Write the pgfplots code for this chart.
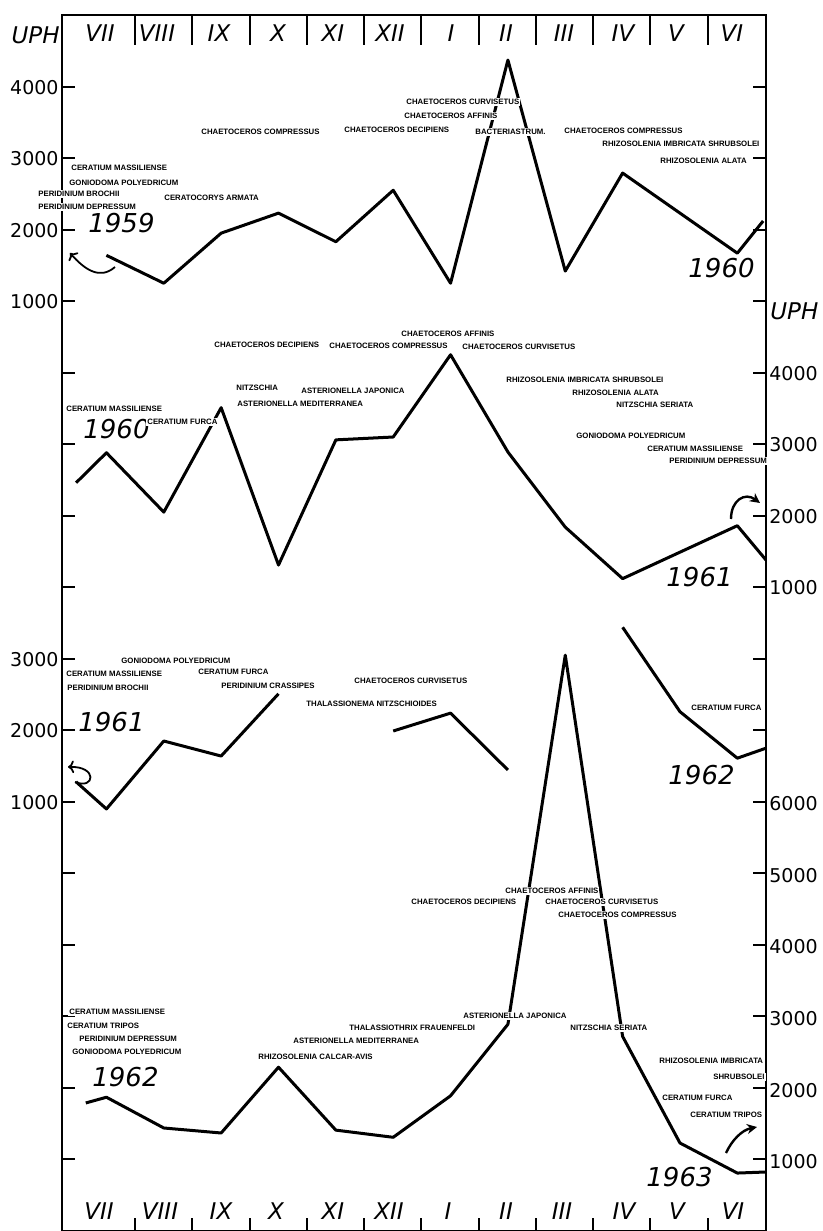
\documentclass[border=0pt]{standalone}
\usepackage{fontspec}
\setmainfont{DejaVu Sans}
\newfontfamily\spf{Liberation Sans}
\usepackage{pgfplots}
\usepackage{pgfplotstable}
\pgfplotsset{compat=1.18}
\usetikzlibrary{arrows.meta}
\tikzset{
 sp/.style={font=\spf\bfseries\fontsize{3.9}{4.5}\selectfont, anchor=west, fill=white, inner sep=0.5pt},
 yr/.style={font=\fontsize{13}{13}\selectfont\itshape, inner sep=0pt},
 mo/.style={font=\fontsize{11.5}{12}\selectfont\itshape, inner sep=0pt},
}
\pgfplotsset{
 panel/.style={at={(0pt,0pt)}, anchor=south west, scale only axis, width=352pt, height=608pt,
  xmin=-0.775, xmax=11.5, xtick=\empty, axis line style={draw=none}, tick style={draw=none},
  yticklabel style={font=\fontsize{9.5}{10}\selectfont, inner sep=1.5pt},
  unbounded coords=jump},
 ser/.style={black, mark=none, line width=1.5pt, line join=round},
}
% month index: 0=VII ... 11=VI ; values in UPH
\pgfplotstableread{
m v
0 1650
1 1260
2 1960
3 2240
4 1840
5 2560
6 1260
7 4380
8 1430
9 2800
11 1680
11.45 2130
}\yrA
\pgfplotstableread{
m v
-0.53 2470
0 2890
1 2060
2 3520
3 1320
4 3070
5 3110
6 4260
7 2900
8 1850
9 1130
10 1500
11 1870
11.5 1390
}\yrB
\pgfplotstableread{
m v
-0.53 1290
0 910
1 1860
2 1650
3 2520
4 nan
5 2000
6 2250
7 1455
8 nan
9 3450
10 2270
11 1620
11.5 1760
}\yrC
\pgfplotstableread{
m v
-0.36 1820
0 1900
1 1470
2 1400
3 2320
4 1440
5 1340
6 1920
7 2920
8 8080
9 2750
10 1260
11 840
11.5 855
}\yrD
\begin{document}
\begin{tikzpicture}
\useasboundingbox (-31pt,0pt) rectangle (380.5pt,615.5pt);
% 1959-60
\begin{axis}[panel, ymin=-11990, ymax=5010, ytick={1000,2000,3000,4000}, yticklabels={1000,2000,3000,4000}, yticklabel pos=left]
\addplot[ser] table[x=m,y=v]{\yrA};
\end{axis}
% 1960-61
\begin{axis}[panel, ymin=-7990, ymax=9010, ytick={1000,2000,3000,4000}, yticklabels={1000,2000,3000,4000}, yticklabel pos=right]
\addplot[ser] table[x=m,y=v]{\yrB};
\end{axis}
% 1961-62
\begin{axis}[panel, ymin=-4990, ymax=12010, ytick={1000,2000,3000}, yticklabels={1000,2000,3000}, yticklabel pos=left]
\addplot[ser] table[x=m,y=v]{\yrC};
\end{axis}
% 1962-63
\begin{axis}[panel, ymin=30, ymax=17030, ytick={1000,2000,3000,4000,5000,6000}, yticklabels={1000,2000,3000,4000,5000,6000}, yticklabel pos=right]
\addplot[ser] table[x=m,y=v]{\yrD};
\end{axis}
% frame and annotations (pixel coordinates)
\begin{axis}[at={(0pt,0pt)}, anchor=south west, scale only axis, width=352pt, height=608pt,
 xmin=62, xmax=766, ymin=-1231, ymax=-15, clip=false,
 axis line style={line width=1pt},
 xtick={135,192.27,...,710}, xticklabels={}, xtick pos=left,
 ytick={-1159.5,-1088,...,-80}, yticklabels={}, ytick pos=both,
 tick align=inside, major tick length=6.5pt, tick style={line width=1pt, black}]
\draw[line width=1pt] (axis cs:135,-15) -- (axis cs:135,-45);
\draw[line width=1pt] (axis cs:192.3,-15) -- (axis cs:192.3,-45);
\draw[line width=1pt] (axis cs:249.5,-15) -- (axis cs:249.5,-45);
\draw[line width=1pt] (axis cs:306.8,-15) -- (axis cs:306.8,-45);
\draw[line width=1pt] (axis cs:364.1,-15) -- (axis cs:364.1,-45);
\draw[line width=1pt] (axis cs:421.4,-15) -- (axis cs:421.4,-45);
\draw[line width=1pt] (axis cs:478.6,-15) -- (axis cs:478.6,-45);
\draw[line width=1pt] (axis cs:535.9,-15) -- (axis cs:535.9,-45);
\draw[line width=1pt] (axis cs:593.2,-15) -- (axis cs:593.2,-45);
\draw[line width=1pt] (axis cs:650.4,-15) -- (axis cs:650.4,-45);
\draw[line width=1pt] (axis cs:707.7,-15) -- (axis cs:707.7,-45);
% top months
\node[mo] at (axis cs:100,-33) {VII};
\node[mo] at (axis cs:157,-33) {VIII};
\node[mo] at (axis cs:219,-33) {IX};
\node[mo] at (axis cs:278,-33) {X};
\node[mo] at (axis cs:333,-33) {XI};
\node[mo] at (axis cs:390,-33) {XII};
\node[mo] at (axis cs:451,-33) {I};
\node[mo] at (axis cs:506,-33) {II};
\node[mo] at (axis cs:564,-33) {III};
\node[mo] at (axis cs:623,-33) {IV};
\node[mo] at (axis cs:676,-33) {V};
\node[mo] at (axis cs:732,-33) {VI};
% bottom months
\node[mo] at (axis cs:99,-1211) {VII};
\node[mo] at (axis cs:160,-1211) {VIII};
\node[mo] at (axis cs:221,-1211) {IX};
\node[mo] at (axis cs:276,-1211) {X};
\node[mo] at (axis cs:333,-1211) {XI};
\node[mo] at (axis cs:389,-1211) {XII};
\node[mo] at (axis cs:448,-1211) {I};
\node[mo] at (axis cs:506,-1211) {II};
\node[mo] at (axis cs:562,-1211) {III};
\node[mo] at (axis cs:624,-1211) {IV};
\node[mo] at (axis cs:677,-1211) {V};
\node[mo] at (axis cs:733,-1211) {VI};
\node[mo, anchor=east] at (axis cs:60,-35) {UPH};
\node[mo, anchor=west] at (axis cs:770,-311) {UPH};
% years
\node[yr, anchor=west] at (axis cs:88,-223) {1959};
\node[yr, anchor=east] at (axis cs:755,-268) {1960};
\node[yr, anchor=west] at (axis cs:83,-429) {1960};
\node[yr, anchor=east] at (axis cs:733,-577) {1961};
\node[yr, anchor=west] at (axis cs:78,-722) {1961};
\node[yr, anchor=east] at (axis cs:735,-775) {1962};
\node[yr, anchor=west] at (axis cs:92,-1077) {1962};
\node[yr, anchor=east] at (axis cs:713,-1177) {1963};
% arrows
\draw[line width=0.9pt, -{To[length=3pt]}] (axis cs:115,-267) .. controls (axis cs:100,-280) and (axis cs:85,-270) .. (axis cs:70,-253);
\draw[line width=1.2pt, -{Stealth[length=5pt,width=5pt]}] (axis cs:731,-519) .. controls (axis cs:731,-500) and (axis cs:745,-492) .. (axis cs:760,-503);
\draw[line width=0.9pt, -{To[length=3pt]}] (axis cs:75,-782) .. controls (axis cs:95,-790) and (axis cs:98,-766) .. (axis cs:68,-767);
\draw[line width=1.2pt, -{Stealth[length=5pt,width=5pt]}] (axis cs:726,-1153) .. controls (axis cs:732,-1140) and (axis cs:742,-1130) .. (axis cs:757,-1127);
% panel 1 species
\node[sp] at (axis cs:70,-168) {CERATIUM MASSILIENSE};
\node[sp] at (axis cs:68,-183) {GONIODOMA POLYEDRICUM};
\node[sp] at (axis cs:37,-194) {PERIDINIUM BROCHII};
\node[sp] at (axis cs:37,-207) {PERIDINIUM DEPRESSUM};
\node[sp] at (axis cs:163,-198) {CERATOCORYS ARMATA};
\node[sp] at (axis cs:200,-132) {CHAETOCEROS COMPRESSUS};
\node[sp] at (axis cs:343,-130) {CHAETOCEROS DECIPIENS};
\node[sp] at (axis cs:405,-102) {CHAETOCEROS CURVISETUS};
\node[sp] at (axis cs:403,-116) {CHAETOCEROS AFFINIS};
\node[sp] at (axis cs:474,-132) {BACTERIASTRUM.};
\node[sp] at (axis cs:563,-131) {CHAETOCEROS COMPRESSUS};
\node[sp] at (axis cs:601,-144) {RHIZOSOLENIA IMBRICATA SHRUBSOLEI};
\node[sp] at (axis cs:659,-161) {RHIZOSOLENIA ALATA};
% panel 2 species
\node[sp] at (axis cs:65,-409) {CERATIUM MASSILIENSE};
\node[sp] at (axis cs:146,-422) {CERATIUM FURCA};
\node[sp] at (axis cs:213,-345) {CHAETOCEROS DECIPIENS};
\node[sp] at (axis cs:328,-346) {CHAETOCEROS COMPRESSUS};
\node[sp] at (axis cs:400,-334) {CHAETOCEROS AFFINIS};
\node[sp] at (axis cs:461,-347) {CHAETOCEROS CURVISETUS};
\node[sp] at (axis cs:235,-388) {NITZSCHIA};
\node[sp] at (axis cs:236,-404) {ASTERIONELLA MEDITERRANEA};
\node[sp] at (axis cs:300,-391) {ASTERIONELLA JAPONICA};
\node[sp] at (axis cs:505,-380) {RHIZOSOLENIA IMBRICATA SHRUBSOLEI};
\node[sp] at (axis cs:571,-393) {RHIZOSOLENIA ALATA};
\node[sp] at (axis cs:615,-405) {NITZSCHIA SERIATA};
\node[sp] at (axis cs:575,-436) {GONIODOMA POLYEDRICUM};
\node[sp] at (axis cs:646,-449) {CERATIUM MASSILIENSE};
\node[sp] at (axis cs:668,-461) {PERIDINIUM DEPRESSUM};
% panel 3 species
\node[sp] at (axis cs:120,-661) {GONIODOMA POLYEDRICUM};
\node[sp] at (axis cs:65,-674) {CERATIUM MASSILIENSE};
\node[sp] at (axis cs:66,-688) {PERIDINIUM BROCHII};
\node[sp] at (axis cs:197,-672) {CERATIUM FURCA};
\node[sp] at (axis cs:220,-686) {PERIDINIUM CRASSIPES};
\node[sp] at (axis cs:353,-681) {CHAETOCEROS CURVISETUS};
\node[sp] at (axis cs:305,-704) {THALASSIONEMA NITZSCHIOIDES};
\node[sp] at (axis cs:690,-708) {CERATIUM FURCA};
% panel 4 species
\node[sp] at (axis cs:504,-891) {CHAETOCEROS AFFINIS};
\node[sp] at (axis cs:410,-902) {CHAETOCEROS DECIPIENS};
\node[sp] at (axis cs:544,-902) {CHAETOCEROS CURVISETUS};
\node[sp] at (axis cs:557,-915) {CHAETOCEROS COMPRESSUS};
\node[sp] at (axis cs:68,-1012) {CERATIUM MASSILIENSE};
\node[sp] at (axis cs:66,-1026) {CERATIUM TRIPOS};
\node[sp] at (axis cs:78,-1039) {PERIDINIUM DEPRESSUM};
\node[sp] at (axis cs:71,-1052) {GONIODOMA POLYEDRICUM};
\node[sp] at (axis cs:257,-1057) {RHIZOSOLENIA CALCAR-AVIS};
\node[sp] at (axis cs:292,-1041) {ASTERIONELLA MEDITERRANEA};
\node[sp] at (axis cs:348,-1028) {THALASSIOTHRIX FRAUENFELDI};
\node[sp] at (axis cs:462,-1016) {ASTERIONELLA JAPONICA};
\node[sp] at (axis cs:569,-1028) {NITZSCHIA SERIATA};
\node[sp] at (axis cs:658,-1061) {RHIZOSOLENIA IMBRICATA};
\node[sp] at (axis cs:712,-1077) {SHRUBSOLEI};
\node[sp] at (axis cs:661,-1098) {CERATIUM FURCA};
\node[sp] at (axis cs:689,-1115) {CERATIUM TRIPOS};
\end{axis}
\end{tikzpicture}
\end{document}
